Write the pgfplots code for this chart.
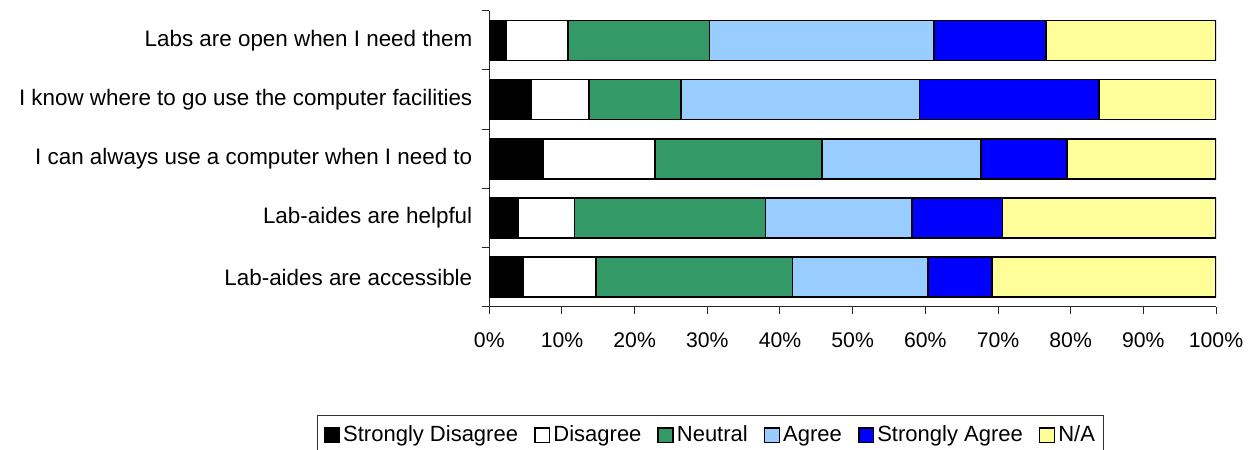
\documentclass[border=0pt]{standalone}
\usepackage{pgfplots}
\usepackage{pgfplotstable}
\pgfplotsset{compat=1.18}
\usepackage{fontspec}
\setmainfont{Liberation Sans}

\definecolor{neutralgreen}{HTML}{339966}
\definecolor{agreeblue}{HTML}{99CCFF}
\definecolor{strongblue}{HTML}{0000FF}
\definecolor{nayellow}{HTML}{FFFF99}

% Share of responses (%) per statement; row 1 is the bottom bar
\pgfplotstableread{
row SD   D    N    A    SA   NA
1   4.7  10.0 27.0 18.7 8.8  30.8
2   4.0  7.7  26.3 20.2 12.4 29.4
3   7.4  15.4 23.0 21.9 11.8 20.5
4   5.7  8.0  12.7 32.8 24.7 16.1
5   2.3  8.5  19.5 30.9 15.4 23.4
}\survey

\begin{document}
\begin{tikzpicture}[x=1pt,y=1pt]
\useasboundingbox (0,0) rectangle (628,224.5);
\begin{axis}[
  at={(244.65pt,71.15pt)}, anchor=south west,
  width=363.35pt, height=148pt, scale only axis,
  xbar stacked, bar width=20pt,
  xmin=0, xmax=100, ymin=0.5, ymax=5.5,
  axis x line*=bottom, axis y line*=left,
  axis line style={black!85, line width=0.5pt},
  tick style={black!85, line width=0.5pt},
  tick align=outside,
  major tick length=3.5pt,
  xtick={0,10,...,100},
  xticklabel={\pgfmathprintnumber{\tick}\%},
  /pgf/number format/assume math mode=true,
  xticklabel style={font=\fontsize{10.6}{12}\selectfont, yshift=-6pt},
  ytick={0.5,1.5,...,5.5}, yticklabels={},
  extra y ticks={1,2,3,4,5},
  extra y tick labels={Lab-aides are accessible, Lab-aides are helpful,
    I can always use a computer when I need to,
    I know where to go use the computer facilities,
    Labs are open when I need them},
  extra y tick style={major tick length=0pt},
  yticklabel style={font=\fontsize{11.2}{13}\selectfont, xshift=-5pt},
  every axis plot/.append style={draw=black, line width=0.8pt},
  legend columns=6,
  legend style={at={(-0.2367,-0.3669)}, anchor=north west,
    draw=black!80, line width=0.5pt,
    font=\fontsize{11}{13}\selectfont,
    inner xsep=3pt, inner ysep=3pt,
    nodes={inner xsep=1.5pt, inner ysep=2pt},
    /tikz/every even column/.append style={column sep=6.5pt}},
  legend image code/.code={\draw[#1, line width=0.8pt] (0pt,-3.7pt) rectangle (7.4pt,3.7pt);},
]
\addplot[fill=black] table[x=SD, y=row]{\survey};
\addplot[fill=white] table[x=D, y=row]{\survey};
\addplot[fill=neutralgreen] table[x=N, y=row]{\survey};
\addplot[fill=agreeblue] table[x=A, y=row]{\survey};
\addplot[fill=strongblue] table[x=SA, y=row]{\survey};
\addplot[fill=nayellow] table[x=NA, y=row]{\survey};
\legend{Strongly Disagree, Disagree, Neutral, Agree, Strongly Agree, N/A}
\end{axis}
\end{tikzpicture}
\end{document}
